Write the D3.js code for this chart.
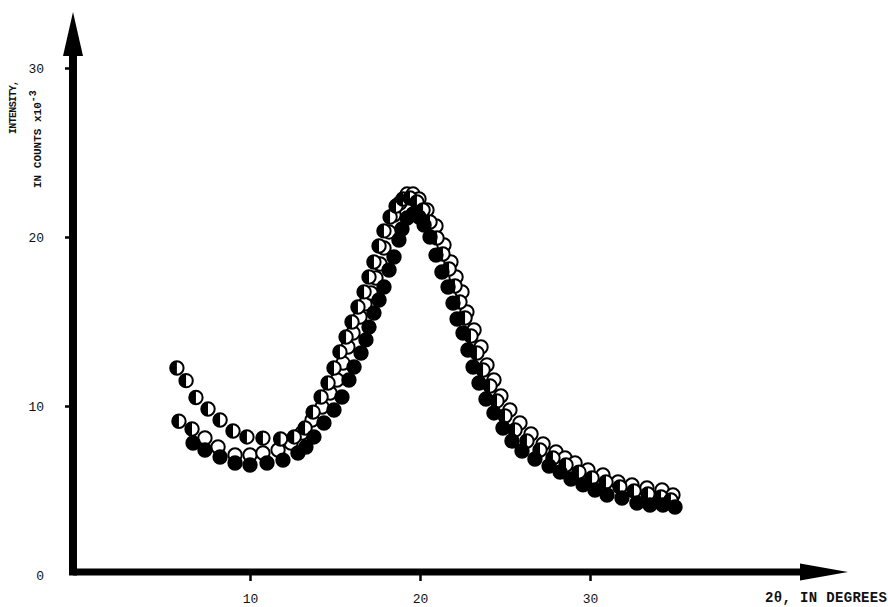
<!DOCTYPE html>
<html>
<head>
<meta charset="utf-8">
<script src="https://cdn.jsdelivr.net/npm/d3@7"></script>
<style>
  body { margin: 0; background: #fff; }
  svg text { font-family: "Liberation Mono", "DejaVu Sans Mono", monospace; fill: #111; }
</style>
</head>
<body>
<div id="chart"></div>
<script>
// Data: 2θ (degrees) and intensity (counts x 10^-3)
const openAngle = [7.35, 8.12, 9.12, 10.0, 10.76, 11.65, 12.41, 13.06, 13.65, 14.24, 14.71, 15.12, 15.47, 15.76, 16.06, 16.47, 16.76, 17.12, 17.41, 17.65, 17.88, 18.18, 18.47, 18.82, 19.24, 19.59, 19.94, 20.41, 20.94, 21.41, 21.82, 22.12, 22.47, 22.76, 23.18, 23.59, 23.94, 24.35, 24.76, 25.29, 25.88, 26.53, 27.24, 28.0, 28.53, 29.12, 29.88, 30.76, 31.65, 32.47, 33.35, 34.24, 34.88];
const openValue = [8.11, 7.57, 7.10, 7.10, 7.22, 7.40, 7.81, 8.40, 9.17, 9.94, 10.77, 11.54, 12.54, 13.49, 14.32, 15.27, 16.04, 16.69, 17.57, 18.40, 19.35, 20.30, 21.30, 22.01, 22.54, 22.54, 22.25, 21.60, 20.65, 19.53, 18.52, 17.63, 16.75, 15.56, 14.50, 13.49, 12.43, 11.54, 10.59, 9.76, 8.99, 8.34, 7.75, 7.28, 6.92, 6.63, 6.21, 5.92, 5.50, 5.33, 5.15, 5.03, 4.73];

const halfAngle = [5.7, 6.24, 6.82, 7.53, 8.24, 9.0, 9.82, 10.76, 11.8, 12.6, 13.24, 13.71, 14.18, 14.59, 14.94, 15.29, 15.65, 16.0, 16.35, 16.71, 17.0, 17.29, 17.59, 17.88, 18.24, 18.59, 19.0, 19.41, 19.82, 20.18, 20.59, 21.0, 21.35, 21.71, 22.06, 22.35, 22.65, 23.0, 23.35, 23.71, 24.12, 24.53, 25.0, 25.59, 26.29, 27.06, 27.82, 28.59, 29.35, 30.12, 30.94, 31.76, 32.59, 33.41, 34.18, 34.76];
const halfValue = [12.25, 11.5, 10.5, 9.82, 9.17, 8.52, 8.17, 8.1, 8.05, 8.17, 8.70, 9.64, 10.53, 11.36, 12.25, 13.20, 14.08, 14.97, 15.86, 16.75, 17.63, 18.52, 19.47, 20.36, 21.18, 21.83, 22.25, 22.31, 22.07, 21.60, 20.89, 19.94, 18.99, 18.11, 17.10, 16.15, 15.21, 14.14, 13.14, 12.13, 11.18, 10.30, 9.41, 8.58, 7.93, 7.40, 6.92, 6.51, 6.09, 5.74, 5.50, 5.21, 4.97, 4.79, 4.62, 4.44];

const halfLowAngle = [5.82, 6.59];
const halfLowValue = [9.1, 8.64];

const filledAngle = [6.65, 7.35, 8.24, 9.12, 10.0, 11.0, 11.94, 12.82, 13.29, 13.76, 14.35, 14.94, 15.41, 15.82, 16.12, 16.53, 16.82, 17.0, 17.29, 17.59, 17.88, 18.18, 18.47, 18.76, 18.94, 19.24, 19.59, 19.94, 20.24, 20.59, 20.94, 21.29, 21.65, 21.94, 22.18, 22.53, 22.82, 23.12, 23.47, 23.88, 24.35, 24.88, 25.41, 26.0, 26.76, 27.59, 28.24, 28.88, 29.59, 30.29, 31.0, 31.88, 32.76, 33.53, 34.29, 35.0];
const filledValue = [7.81, 7.40, 6.98, 6.63, 6.51, 6.63, 6.80, 7.22, 7.57, 8.17, 8.99, 9.76, 10.53, 11.54, 12.31, 13.14, 13.91, 14.67, 15.50, 16.27, 17.04, 18.05, 18.82, 19.82, 20.47, 21.12, 21.36, 21.18, 20.71, 20.0, 18.93, 17.93, 17.04, 16.09, 15.15, 14.32, 13.31, 12.31, 11.36, 10.41, 9.59, 8.70, 7.93, 7.34, 6.86, 6.45, 6.09, 5.68, 5.33, 5.03, 4.73, 4.56, 4.26, 4.14, 4.14, 4.02];

const xTicks = [10, 20, 30];
const yTicks = [0, 10, 20, 30];

const width = 888, height = 607;
const r = 6.7;

const svg = d3.select("#chart").append("svg")
    .attr("width", width)
    .attr("height", height);

const x = d3.scaleLinear().domain([0, 45]).range([80, 845]);
const y = d3.scaleLinear().domain([0, 30]).range([575, 68]);

const axisX0 = 73;   // vertical axis position
const axisY0 = 572;  // horizontal axis position

// Axes (thick hand-drawn look)
svg.append("line")
    .attr("x1", axisX0).attr("x2", 810)
    .attr("y1", axisY0).attr("y2", axisY0)
    .attr("stroke", "#000").attr("stroke-width", 7);
svg.append("path")
    .attr("d", `M800,${axisY0 - 8.5}L848,${axisY0}L800,${axisY0 + 8.5}Z`)
    .attr("fill", "#000");

svg.append("line")
    .attr("x1", axisX0).attr("x2", axisX0)
    .attr("y1", axisY0 + 3.5).attr("y2", 50)
    .attr("stroke", "#000").attr("stroke-width", 8);
svg.append("path")
    .attr("d", `M${axisX0 - 10},56L${axisX0},12L${axisX0 + 10},56Z`)
    .attr("fill", "#000");

// Tick nubs + labels from the scales
const xAxis = d3.axisBottom(x).tickValues(xTicks).tickSize(6).tickPadding(13).tickFormat(d3.format("d"));
const gx = svg.append("g").attr("transform", `translate(0,${axisY0 + 3})`).call(xAxis);
gx.select(".domain").remove();
gx.selectAll("line").attr("stroke", "#000").attr("stroke-width", 2.5);
gx.selectAll("text").attr("font-size", 13).attr("fill", "#111");

const yAxis = d3.axisLeft(y).tickValues(yTicks).tickSize(5).tickPadding(21).tickFormat(d3.format("d"));
const gy = svg.append("g").attr("transform", `translate(${axisX0 - 3},0)`).call(yAxis);
gy.select(".domain").remove();
gy.selectAll("line").attr("stroke", "#000").attr("stroke-width", 2.5)
    .attr("display", d => d === 0 ? "none" : null);
gy.selectAll("text").attr("font-size", 13).attr("fill", "#111");

// Axis titles
svg.append("text")
    .attr("x", 765).attr("y", 602)
    .attr("font-size", 14)
    .attr("font-weight", "bold")
    .attr("textLength", 122)
    .text("2θ, IN DEGREES");

const yTitle = svg.append("g").attr("transform", "rotate(-90)");
yTitle.append("text")
    .attr("x", -134).attr("y", 16)
    .attr("font-size", 10)
    .attr("font-weight", "bold")
    .attr("textLength", 54)
    .text("INTENSITY,");
const line2 = yTitle.append("text")
    .attr("x", -188).attr("y", 41)
    .attr("font-size", 11)
    .attr("font-weight", "bold");
line2.append("tspan").text("IN COUNTS x10");
line2.append("tspan").attr("dy", -5).attr("font-size", 10).text("-3");

// Markers: open first, half-filled over them, solid on top
function zip(a, v) { return a.map((d, i) => ({ a: d, v: v[i] })); }

svg.append("g").selectAll("circle")
    .data(zip(openAngle, openValue))
    .join("circle")
    .attr("cx", d => x(d.a)).attr("cy", d => y(d.v)).attr("r", r)
    .attr("fill", "#fff").attr("stroke", "#000").attr("stroke-width", 2);

function halfMarkers(data) {
    const g = svg.append("g").selectAll("g")
        .data(data)
        .join("g")
        .attr("transform", d => `translate(${x(d.a)},${y(d.v)})`);
    g.append("circle").attr("r", r)
        .attr("fill", "#fff").attr("stroke", "#000").attr("stroke-width", 2);
    g.append("path")
        .attr("d", `M0,${-r}A${r},${r} 0 0 0 0,${r}Z`)
        .attr("fill", "#000");
}
halfMarkers(zip(halfAngle, halfValue));
halfMarkers(zip(halfLowAngle, halfLowValue));

svg.append("g").selectAll("circle")
    .data(zip(filledAngle, filledValue))
    .join("circle")
    .attr("cx", d => x(d.a)).attr("cy", d => y(d.v)).attr("r", r)
    .attr("fill", "#000").attr("stroke", "#000").attr("stroke-width", 2);
</script>
</body>
</html>
